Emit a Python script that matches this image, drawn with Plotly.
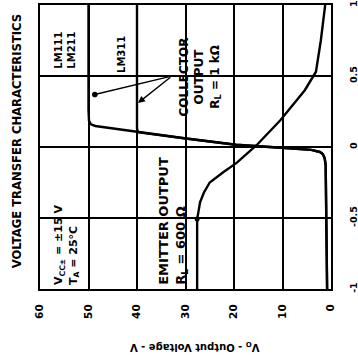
import plotly.graph_objects as go

# ---- data ----
vo_ticks = [0, 10, 20, 30, 40, 50, 60]
vo_tick_text = ["0", "10", "20", "30", "40", "50", "60"]
vid_ticks = [-1, -0.5, 0, 0.5, 1]
vid_tick_text = ["-1", "-0.5", "0", "0.5", "1"]

# collector output, common part (Vo in V, VID in mV)
coll_vo = [0.8, 0.9, 1.0, 1.1, 1.3, 1.7, 2.3, 4.1, 6.4, 12.6, 19.6, 29.9, 39.8]
coll_vid = [-1.0, -0.49, -0.2, -0.13, -0.08, -0.05, -0.035, -0.02, -0.014, 0.0, 0.016, 0.06, 0.105]
# LM111 / LM211 branch
lm111_vo = [45.6, 48.6, 49.5, 49.9, 50.0, 50.0]
lm111_vid = [0.13, 0.148, 0.16, 0.185, 0.26, 1.0]
# LM311 branch
lm311_vo = [40.0, 40.0]
lm311_vid = [0.13, 1.0]
# emitter output
emit_vo = [27.6, 27.6, 27.3, 27.0, 26.2, 25.0, 22.3, 19.4, 15.3, 10.4, 5.4, 3.1, 2.1, 1.2]
emit_vid = [-1.0, -0.507, -0.45, -0.39, -0.32, -0.25, -0.18, -0.11, 0.014, 0.19, 0.40, 0.53, 0.75, 1.0]

FONT = "DejaVu Sans"
LW = 2.4

fig = go.Figure()
fig.add_trace(go.Scatter(x=coll_vo + lm111_vo, y=coll_vid + lm111_vid, mode="lines",
                         line=dict(color="black", width=LW), hoverinfo="skip"))
fig.add_trace(go.Scatter(x=coll_vo + lm311_vo, y=coll_vid + lm311_vid, mode="lines",
                         line=dict(color="black", width=LW), hoverinfo="skip"))
fig.add_trace(go.Scatter(x=emit_vo, y=emit_vid, mode="lines",
                         line=dict(color="black", width=LW), hoverinfo="skip"))
fig.add_trace(go.Scatter(x=[emit_vo[1]], y=[emit_vid[1]], mode="markers",
                         marker=dict(color="black", size=5), hoverinfo="skip"))

ann = []
def txt(text, x, y, size=11, **kw):
    d = dict(text=text, x=x, y=y, xref="x", yref="y", showarrow=False, textangle=-90,
             font=dict(family=FONT, size=size, color="black", weight="bold"))
    d.update(kw)
    ann.append(d)

txt("LM111<br>LM211", 54.8, 0.68, size=10)
txt("LM311", 43.1, 0.655, size=10)
txt("COLLECTOR<br>OUTPUT<br>R<sub>L</sub> = 1 kΩ", 27.0, 0.49, size=12)
txt("V<sub>CC±</sub> = ±15 V<br>T<sub>A</sub> = 25°C", 54.4, -0.985, size=11, align="left", yanchor="bottom")
txt("EMITTER OUTPUT<br>R<sub>L</sub> = 600 Ω", 32.6, -0.985, size=13, align="left", yanchor="bottom")

ann.append(dict(text="", x=48.7, y=0.37, ax=32.8, ay=0.50, xref="x", yref="y", axref="x", ayref="y",
                showarrow=True, arrowhead=6, arrowsize=1, arrowwidth=1.4, arrowcolor="black"))
ann.append(dict(text="", x=39.8, y=0.31, ax=32.8, ay=0.50, xref="x", yref="y", axref="x", ayref="y",
                showarrow=True, arrowhead=2, arrowsize=1, arrowwidth=1.4, arrowcolor="black"))

ann.append(dict(text="VOLTAGE TRANSFER CHARACTERISTICS", xref="paper", yref="paper",
                x=-0.079, y=0.52, xanchor="center", yanchor="middle", showarrow=False, textangle=-90,
                font=dict(family=FONT, size=11.6, color="black", weight="bold")))
ann.append(dict(text="V<sub>O</sub> - Output Voltage - V", xref="paper", yref="paper",
                x=0.53, y=-0.205, xanchor="center", yanchor="middle", showarrow=False, textangle=180,
                font=dict(family=FONT, size=10, color="black", weight="bold")))

fig.update_layout(
    width=358, height=361,
    margin=dict(l=40, r=27, t=5, b=72, autoexpand=False),
    paper_bgcolor="white", plot_bgcolor="white",
    showlegend=False,
    annotations=ann,
    xaxis=dict(range=[60, 0], tickvals=vo_ticks, ticktext=vo_tick_text, tickangle=-90,
               showgrid=True, gridcolor="black", gridwidth=1.5, zeroline=False,
               showline=True, linecolor="black", linewidth=2.2, mirror=True,
               ticks="", ticklabelstandoff=9, automargin=False,
               tickfont=dict(family=FONT, size=10.5, color="black", weight="bold")),
    yaxis=dict(range=[-1, 1], tickvals=vid_ticks, ticktext=vid_tick_text, tickangle=-90,
               side="right", showgrid=True, gridcolor="black", gridwidth=1.5, zeroline=False,
               showline=True, linecolor="black", linewidth=2.2, mirror=True,
               ticks="", ticklabelstandoff=12, automargin=False,
               tickfont=dict(family=FONT, size=9.5, color="black", weight="bold")),
)

fig.write_html("out.html", config={"displayModeBar": False},
               post_script="document.body.style.margin='0';")
